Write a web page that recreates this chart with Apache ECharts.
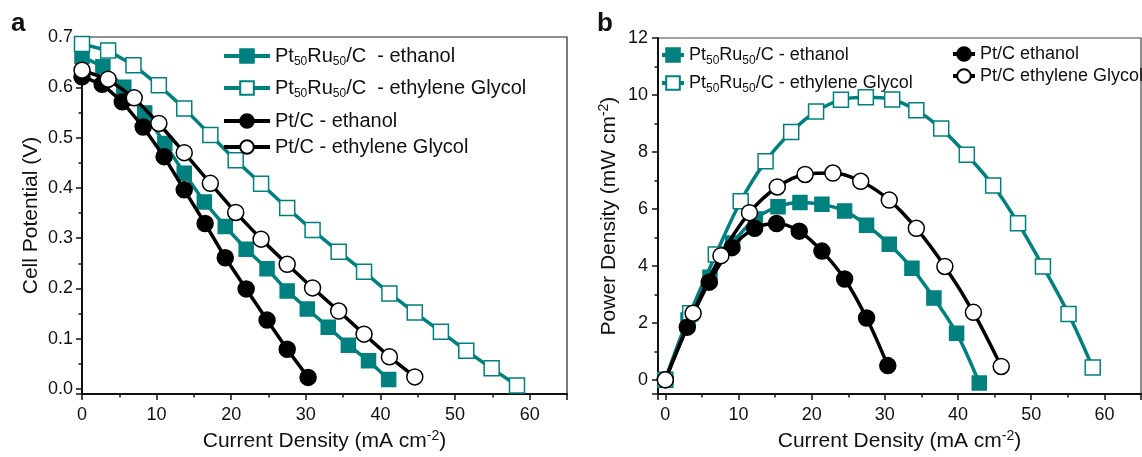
<!DOCTYPE html>
<html>
<head>
<meta charset="utf-8">
<script src="https://cdn.jsdelivr.net/npm/echarts@6/dist/echarts.min.js"></script>
<style>
  html, body { margin: 0; padding: 0; background: #fff; }
  #main { width: 1142px; height: 457px; }
</style>
</head>
<body>
<div id="main"></div>
<script>
// panel a: cell potential vs current density
const aPtRuEthX = [0, 2.8, 5.6, 8.4, 11.1, 13.7, 16.4, 19.2, 22.0, 24.8, 27.5, 30.2, 33.0, 35.7, 38.4, 41.1];
const aPtRuEthV = [0.661, 0.641, 0.600, 0.549, 0.488, 0.429, 0.372, 0.323, 0.278, 0.239, 0.195, 0.159, 0.123, 0.087, 0.056, 0.019];
const aPtRuEgX = [0, 3.5, 6.9, 10.3, 13.7, 17.2, 20.6, 24.0, 27.5, 30.9, 34.4, 37.8, 41.2, 44.6, 48.1, 51.5, 54.9, 58.3];
const aPtRuEgV = [0.686, 0.673, 0.644, 0.604, 0.558, 0.505, 0.455, 0.408, 0.360, 0.316, 0.273, 0.233, 0.190, 0.152, 0.114, 0.076, 0.041, 0.007];
const aPtEthX = [0, 2.7, 5.4, 8.2, 11.0, 13.7, 16.5, 19.2, 22.0, 24.8, 27.5, 30.3];
const aPtEthV = [0.621, 0.606, 0.571, 0.521, 0.462, 0.396, 0.329, 0.261, 0.199, 0.137, 0.079, 0.023];
const aPtEgX = [0, 3.5, 7.0, 10.3, 13.7, 17.2, 20.6, 24.0, 27.5, 30.9, 34.4, 37.8, 41.2, 44.6];
const aPtEgV = [0.634, 0.616, 0.579, 0.528, 0.470, 0.409, 0.351, 0.298, 0.248, 0.201, 0.155, 0.109, 0.064, 0.024];

// panel b: power density vs current density
const bPtRuEthX = [0, 3.1, 6.1, 9.2, 12.3, 15.4, 18.4, 21.4, 24.5, 27.5, 30.6, 33.7, 36.7, 39.8, 42.9];
const bPtRuEthP = [0, 2.1, 3.6, 4.8, 5.65, 6.08, 6.23, 6.16, 5.93, 5.43, 4.76, 3.92, 2.87, 1.64, -0.11];
const bPtRuEgX = [0, 3.4, 6.9, 10.3, 13.7, 17.2, 20.6, 24.0, 27.4, 31.0, 34.3, 37.7, 41.2, 44.8, 48.2, 51.6, 55.1, 58.4];
const bPtRuEgP = [0, 2.34, 4.40, 6.27, 7.67, 8.70, 9.42, 9.83, 9.92, 9.84, 9.46, 8.82, 7.90, 6.82, 5.50, 3.98, 2.31, 0.43];
const bPtEthX = [0, 3.0, 6.0, 9.1, 12.2, 15.2, 18.3, 21.4, 24.5, 27.5, 30.4];
const bPtEthP = [0, 1.85, 3.43, 4.64, 5.32, 5.49, 5.22, 4.52, 3.54, 2.17, 0.5];
const bPtEgX = [0, 3.8, 7.6, 11.5, 15.3, 19.1, 22.9, 26.7, 30.6, 34.3, 38.2, 42.1, 45.9];
const bPtEgP = [0, 2.34, 4.36, 5.87, 6.77, 7.21, 7.26, 6.97, 6.31, 5.32, 3.98, 2.37, 0.47];

const aNames = ['Pt50Ru50/C  - ethanol', 'Pt50Ru50/C  - ethylene Glycol', 'Pt/C - ethanol', 'Pt/C - ethylene Glycol'];
const bNames = ['Pt50Ru50/C - ethanol', 'Pt50Ru50/C - ethylene Glycol', 'Pt/C ethanol', 'Pt/C ethylene Glycol'];

const TEAL = '#00807e';
const FONT = 'Liberation Sans, Arial, sans-serif';

const zip = (xs, ys) => xs.map((x, i) => [x, ys[i]]);

const chart = echarts.init(document.getElementById('main'));

const subRich = {
  s: { fontSize: 12, fontFamily: FONT, color: '#111', padding: [12, 0, 0, 0] },
};
const supRich = {
  p: { fontSize: 14, fontFamily: FONT, color: '#111', padding: [0, 0, 11, 0] },
};
const legendFmt = (n) => n.replace('Pt50Ru50', 'Pt{s|50}Ru{s|50}');

const axisCommon = {
  axisLine: { onZero: false, lineStyle: { color: '#111', width: 2 } },
  axisTick: { inside: false, length: 6, lineStyle: { color: '#111', width: 1.5 } },
  minorTick: { show: true, splitNumber: 2, length: 3.5, lineStyle: { color: '#111', width: 1.5 } },
  splitLine: { show: false },
  axisLabel: { color: '#111', fontSize: 18, fontFamily: FONT },
  nameTextStyle: { color: '#111', fontSize: 21, fontFamily: FONT, rich: supRich },
};

function mkSeries(name, xi, yi, data, symbol, size, fill, border, lineColor, z) {
  return {
    name, type: 'line', xAxisIndex: xi, yAxisIndex: yi,
    data, symbol, symbolSize: size, smooth: yi === 1 ? 0.35 : false,
    showAllSymbol: true, z,
    lineStyle: { color: lineColor, width: 3.5 },
    itemStyle: { color: fill, borderColor: border, borderWidth: 1.5 },
    emphasis: { disabled: true },
  };
}

function mkLegend(name, left, top, w, h, fs) {
  return {
    data: [name], left, top, itemWidth: w, itemHeight: h, itemGap: 0, padding: 0,
    selectedMode: false, orient: 'vertical',
    formatter: legendFmt,
    lineStyle: { width: 4 },
    textStyle: { fontSize: fs, fontFamily: FONT, color: '#111', rich: subRich },
  };
}

const option = {
  animation: false,
  backgroundColor: '#fff',
  title: [
    { text: 'a', left: 6, top: 6, textStyle: { fontSize: 26, fontWeight: 'bold', color: '#111', fontFamily: FONT } },
    { text: 'b', left: 592, top: 6, textStyle: { fontSize: 26, fontWeight: 'bold', color: '#111', fontFamily: FONT } },
  ],
  grid: [
    { left: 82, right: 575, top: 37, bottom: 63, show: true, borderColor: '#222', borderWidth: 1.2, containLabel: false },
    { left: 658, right: 1, top: 38, bottom: 61, show: true, borderColor: '#444', borderWidth: 1.2, containLabel: false },
  ],
  xAxis: [
    Object.assign({}, axisCommon, {
      type: 'value', gridIndex: 0, min: 0, max: 65, interval: 10,
      name: 'Current Density (mA cm{p|-2})', nameLocation: 'middle', nameGap: 32,
      axisLabel: Object.assign({}, axisCommon.axisLabel, { margin: 12, showMaxLabel: false }),
    }),
    Object.assign({}, axisCommon, {
      type: 'value', gridIndex: 1, min: -1, max: 65, splitNumber: 6,
      name: 'Current Density (mA cm{p|-2})', nameLocation: 'middle', nameGap: 32,
      axisLabel: Object.assign({}, axisCommon.axisLabel, { margin: 12, showMinLabel: false, showMaxLabel: false }),
    }),
  ],
  yAxis: [
    Object.assign({}, axisCommon, {
      type: 'value', gridIndex: 0, min: -0.01, max: 0.7, splitNumber: 7,
      name: 'Cell Potential (V)', nameLocation: 'middle', nameGap: 40,
      axisLabel: Object.assign({}, axisCommon.axisLabel, { margin: 9, showMinLabel: false, formatter: (v) => v.toFixed(1) }),
    }),
    Object.assign({}, axisCommon, {
      type: 'value', gridIndex: 1, min: -0.5, max: 12, splitNumber: 6,
      name: 'Power Density (mW cm{p|-2})', nameLocation: 'middle', nameGap: 36,
      axisLabel: Object.assign({}, axisCommon.axisLabel, { margin: 10, showMinLabel: false }),
    }),
  ],
  legend: [
    mkLegend(aNames[0], 222, 46, 46, 17, 20),
    mkLegend(aNames[1], 222, 78, 46, 17, 20),
    mkLegend(aNames[2], 222, 111, 46, 17, 20),
    mkLegend(aNames[3], 222, 137, 46, 17, 20),
    mkLegend(bNames[0], 660, 46, 22, 17, 18),
    mkLegend(bNames[1], 660, 74, 22, 17, 18),
    mkLegend(bNames[2], 951, 45, 22, 17, 18),
    mkLegend(bNames[3], 951, 67, 22, 17, 18),
  ],
  series: [
    mkSeries(aNames[0], 0, 0, zip(aPtRuEthX, aPtRuEthV), 'rect', 14, TEAL, TEAL, TEAL, 2),
    mkSeries(aNames[1], 0, 0, zip(aPtRuEgX, aPtRuEgV), 'rect', 15, '#fff', TEAL, TEAL, 3),
    mkSeries(aNames[2], 0, 0, zip(aPtEthX, aPtEthV), 'circle', 16, '#000', '#000', '#000', 4),
    mkSeries(aNames[3], 0, 0, zip(aPtEgX, aPtEgV), 'circle', 16, '#fff', '#000', '#000', 5),
    mkSeries(bNames[0], 1, 1, zip(bPtRuEthX, bPtRuEthP), 'rect', 14, TEAL, TEAL, TEAL, 2),
    mkSeries(bNames[1], 1, 1, zip(bPtRuEgX, bPtRuEgP), 'rect', 15, '#fff', TEAL, TEAL, 3),
    mkSeries(bNames[2], 1, 1, zip(bPtEthX, bPtEthP), 'circle', 16, '#000', '#000', '#000', 4),
    mkSeries(bNames[3], 1, 1, zip(bPtEgX, bPtEgP), 'circle', 16, '#fff', '#000', '#000', 5),
  ],
};

chart.setOption(option);
</script>
</body>
</html>
